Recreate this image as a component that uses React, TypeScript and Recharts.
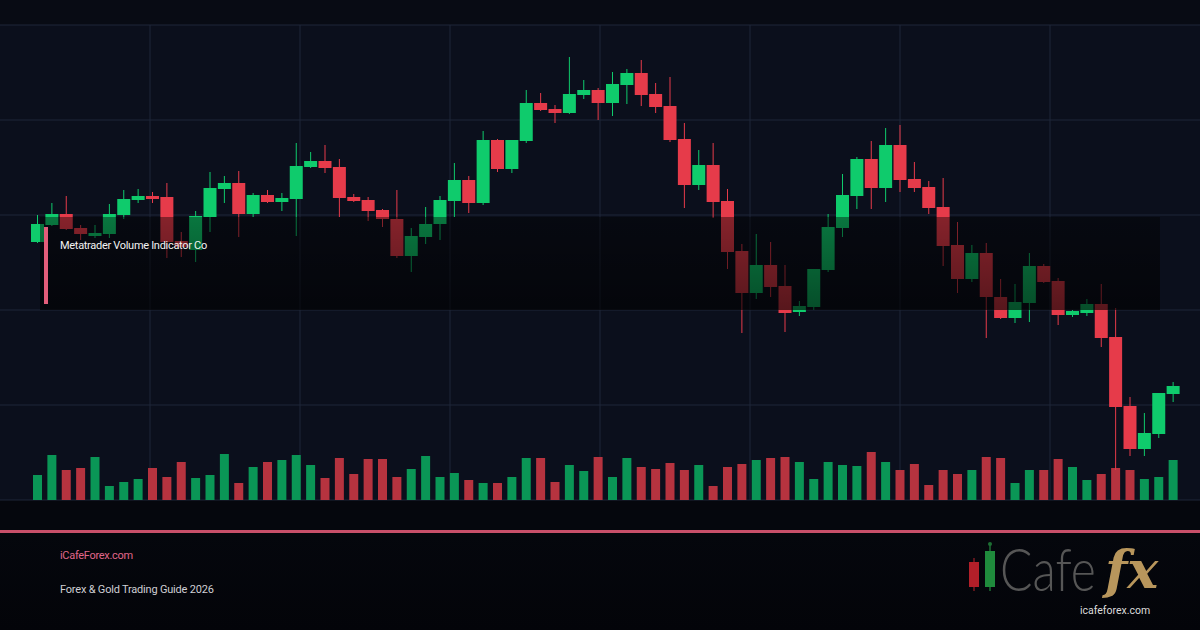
import { Bar, CartesianGrid, Cell, ComposedChart, XAxis, YAxis } from 'recharts';

// candles, left to right
const OPEN = [
  2058, 2075, 2086, 2072, 2064, 2066, 2085, 2100, 2104, 2103, 2059, 2050, 2083, 2111, 2117, 2086,
  2105, 2098, 2101, 2133, 2139, 2133, 2103, 2100, 2090, 2081, 2044, 2063, 2076, 2099, 2120, 2097,
  2160, 2131, 2159, 2197, 2191, 2187, 2205, 2210, 2197, 2215, 2227, 2206, 2194, 2161, 2115, 2135,
  2099, 2049, 2007, 2035, 2014, 1988, 1993, 2030, 2072, 2104, 2141, 2112, 2155, 2121, 2113, 2093,
  2055, 2021, 2047, 2003, 1982, 1997, 2034, 2019, 1985, 1987, 1996, 1963, 1894, 1851, 1866, 1906,
];
const HIGH = [
  2085, 2097, 2104, 2075, 2075, 2096, 2110, 2111, 2108, 2117, 2068, 2089, 2128, 2124, 2129, 2107,
  2110, 2107, 2157, 2148, 2155, 2141, 2106, 2103, 2091, 2110, 2072, 2093, 2104, 2137, 2124, 2169,
  2161, 2160, 2210, 2207, 2195, 2243, 2220, 2212, 2228, 2231, 2240, 2217, 2223, 2177, 2150, 2157,
  2111, 2056, 2066, 2058, 2035, 1999, 2031, 2086, 2126, 2143, 2159, 2172, 2175, 2138, 2119, 2122,
  2078, 2055, 2057, 2021, 2016, 2047, 2036, 2022, 1990, 2001, 2016, 1992, 1903, 1887, 1907, 1918,
];
const LOW = [
  2057, 2074, 2070, 2060, 2062, 2062, 2081, 2097, 2097, 2042, 2043, 2038, 2068, 2097, 2063, 2083,
  2097, 2089, 2064, 2132, 2127, 2083, 2098, 2079, 2073, 2042, 2028, 2056, 2060, 2083, 2087, 2095,
  2128, 2127, 2157, 2189, 2177, 2186, 2201, 2180, 2184, 2196, 2194, 2187, 2158, 2092, 2110, 2082,
  2031, 1967, 2001, 2003, 1968, 1984, 1990, 2028, 2063, 2091, 2091, 2098, 2108, 2108, 2086, 2034,
  2007, 2018, 1962, 1981, 1977, 1978, 2017, 1975, 1983, 1984, 1953, 1830, 1844, 1844, 1862, 1898,
];
const CLOSE = [
  2076, 2086, 2071, 2066, 2067, 2086, 2101, 2104, 2101, 2058, 2053, 2084, 2112, 2117, 2086, 2105,
  2098, 2102, 2134, 2139, 2132, 2102, 2099, 2089, 2081, 2044, 2064, 2076, 2100, 2120, 2097, 2160,
  2131, 2160, 2197, 2190, 2187, 2206, 2210, 2197, 2216, 2227, 2205, 2193, 2160, 2115, 2135, 2098,
  2048, 2007, 2035, 2013, 1987, 1994, 2031, 2073, 2105, 2141, 2112, 2155, 2120, 2112, 2092, 2054,
  2021, 2047, 2003, 1982, 1998, 2034, 2018, 1985, 1989, 1996, 1962, 1893, 1851, 1867, 1907, 1914,
];
const VOLUME = [
  2500, 4500, 3000, 3200, 4300, 1400, 1800, 2100, 3200, 2300, 3800, 2200, 2500, 4600, 1700, 3300,
  3800, 4000, 4500, 3500, 2200, 4200, 2600, 4100, 4100, 2300, 3100, 4400, 2300, 2700, 2000, 1700,
  1700, 2300, 4200, 4200, 1800, 3500, 2900, 4300, 2300, 4200, 3300, 3100, 3700, 3000, 3500, 1400,
  3300, 3600, 4000, 4200, 4300, 3800, 2100, 3800, 3500, 3400, 4800, 3800, 3000, 3600, 1500, 3000,
  2600, 3000, 4300, 4200, 1700, 3000, 3000, 4100, 3300, 2000, 2600, 3200, 3000, 2100, 2300, 4000,
];

const PRICE_TICKS = [1800, 1895, 1990, 2085, 2180, 2275];
const GRID_X = [150, 300, 450, 600, 750, 900, 1050];

const GREEN = '#0fcb6c';
const RED = '#e63b4a';
const VOL_GREEN = '#0a9656';
const VOL_RED = '#b6333f';

const data = OPEN.map((open, i) => ({
  idx: i,
  open,
  high: HIGH[i],
  low: LOW[i],
  close: CLOSE[i],
  volume: VOLUME[i],
}));

function Candle(props: any) {
  const { x, y, width, height, payload } = props;
  const top = height < 0 ? y + height : y;
  const h = Math.abs(height);
  const { open, close, high, low } = payload;
  const up = close >= open;
  const color = up ? GREEN : RED;
  const k = h / (high - low);
  const bodyTop = top + (high - Math.max(open, close)) * k;
  const bodyH = Math.max(1.5, Math.abs(open - close) * k);
  const cx = x + width / 2;
  return (
    <g>
      <line x1={cx} x2={cx} y1={top} y2={top + h} stroke={color} strokeWidth={1} />
      <rect x={x} y={bodyTop} width={width} height={bodyH} fill={color} />
    </g>
  );
}

export default function App() {
  return (
    <div
      style={{
        position: 'absolute',
        left: 0,
        top: 0,
        width: 1200,
        height: 630,
        overflow: 'hidden',
        background: '#05070d',
        fontFamily: 'Roboto, sans-serif',
      }}
    >
      <div style={{ position: 'absolute', left: 0, top: 0, width: 1200, height: 25, background: '#080b14' }} />
      <div style={{ position: 'absolute', left: 0, top: 0 }}>
        <ComposedChart width={1200} height={630} data={data} margin={{ top: 25, right: 0, bottom: 130, left: 0 }}>
          <CartesianGrid
            xAxisId="c"
            yAxisId="price"
            stroke="#1f2638"
            fill="#0b0f1c"
            verticalPoints={GRID_X}
          />
          <XAxis xAxisId="c" dataKey="idx" type="category" hide padding={{ left: 30, right: 20 }} />
          <XAxis xAxisId="v" dataKey="idx" type="category" hide padding={{ left: 30, right: 20 }} />
          <YAxis yAxisId="price" hide domain={[1800, 2275]} ticks={PRICE_TICKS} allowDataOverflow />
          <YAxis yAxisId="vol" hide domain={[0, 47500]} allowDataOverflow />
          <Bar
            xAxisId="v"
            yAxisId="vol"
            dataKey="volume"
            barSize={9}
            isAnimationActive={false}
          >
            {data.map((d) => (
              <Cell key={d.idx} fill={d.close >= d.open ? VOL_GREEN : VOL_RED} />
            ))}
          </Bar>
          <Bar
            xAxisId="c"
            yAxisId="price"
            dataKey={(d: any) => [d.low, d.high]}
            barSize={13}
            shape={Candle}
            isAnimationActive={false}
          />
        </ComposedChart>
      </div>

      {/* caption box over the chart */}
      <div
        style={{
          position: 'absolute',
          left: 40,
          top: 217,
          width: 1120,
          height: 93,
          background: 'linear-gradient(to bottom, rgba(0,0,0,0.42), rgba(0,0,0,0.62))',
        }}
      />
      <div style={{ position: 'absolute', left: 44, top: 227, width: 4, height: 77, background: '#e35d7a' }} />
      <div
        style={{
          position: 'absolute',
          left: 60,
          top: 239,
          fontSize: 11,
          letterSpacing: -0.3,
          color: '#f2f2f2',
          whiteSpace: 'nowrap',
        }}
      >
        Metatrader Volume Indicator Co
      </div>

      {/* footer */}
      <div style={{ position: 'absolute', left: 0, top: 530, width: 1200, height: 3, background: '#c9506a' }} />
      <div
        style={{
          position: 'absolute',
          left: 0,
          top: 533,
          width: 1200,
          height: 97,
          background: 'linear-gradient(to bottom, #05070d, #030409)',
        }}
      />
      <div style={{ position: 'absolute', left: 60, top: 549, fontSize: 11, letterSpacing: -0.3, color: '#e0668a' }}>
        iCafeForex.com
      </div>
      <div style={{ position: 'absolute', left: 60, top: 583, fontSize: 11, letterSpacing: -0.2, color: '#cfcfd4' }}>
        Forex &amp; Gold Trading Guide 2026
      </div>

      <svg style={{ position: 'absolute', left: 0, top: 0 }} width={1200} height={630}>
        <line x1={974} x2={974} y1={558} y2={591} stroke="#7a1a20" strokeWidth={1.5} />
        <rect x={969} y={562} width={10} height={25} fill="#b21f29" />
        <line x1={990} x2={990} y1={543} y2={591} stroke="#1d6e33" strokeWidth={1.5} />
        <circle cx={990} cy={544} r={2} fill="#1d6e33" />
        <rect x={985} y={551} width={10} height={36} fill="#1f8b3c" />
        <text
          transform="translate(1000 591) scale(1 1.25)"
          fontFamily="Lato, sans-serif"
          fontWeight={300}
          fontSize={48}
          fill="#565656"
        >
          Cafe
        </text>
        <text
          x={1105}
          y={588}
          fontFamily="'DejaVu Serif', serif"
          fontWeight={700}
          fontStyle="italic"
          fontSize={52}
          fill="#b8965c"
        >
          fx
        </text>
        <text x={1080} y={614} fontFamily="Roboto, sans-serif" fontSize={10.5} fill="#dcdcdc">
          icafeforex.com
        </text>
      </svg>
    </div>
  );
}
